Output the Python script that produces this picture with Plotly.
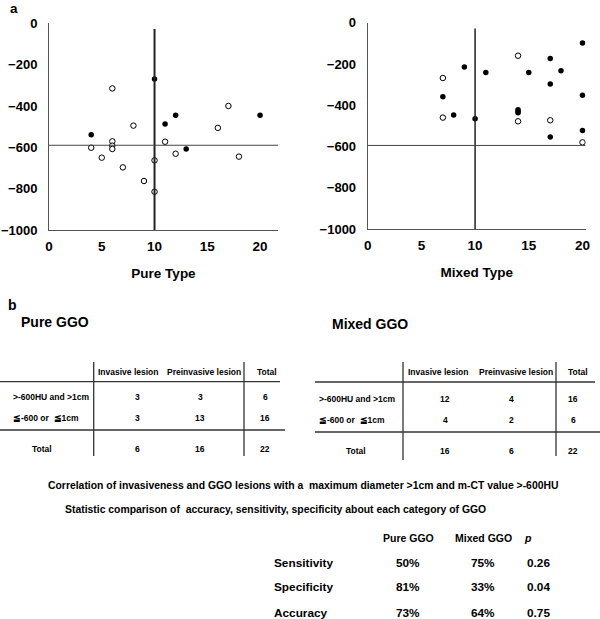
import plotly.graph_objects as go

# ---------------- data ----------------
# Panel a: pure type (x = diameter mm, y = mean CT value HU)
pure_inv_x = [10, 4, 11, 12, 13, 20]
pure_inv_y = [-270, -539, -487, -445, -608, -445]
pure_pre_x = [6, 8, 4, 5, 6, 6, 6, 7, 9, 10, 10, 11, 12, 16, 17, 18]
pure_pre_y = [-315, -495, -602, -650, -571, -592, -608, -697, -763, -663, -815, -573, -631, -506, -400, -645]

mixed_inv_x = [9, 11, 7, 8, 10, 15, 14, 14, 14, 17, 17, 17, 18, 20, 20, 20]
mixed_inv_y = [-215, -242, -359, -447, -465, -241, -422, -430, -437, -174, -297, -554, -233, -99, -352, -522]
mixed_pre_x = [7, 7, 14, 14, 17, 20]
mixed_pre_y = [-268, -460, -160, -478, -473, -580]

size_cut = [10, 10]        # mm threshold (pure, mixed)
ct_cut = [-590, -595]      # HU threshold line (pure, mixed)

x_ticks = [0, 5, 10, 15, 20]
y_ticks = [0, -200, -400, -600, -800, -1000]
x_titles = ["Pure Type", "Mixed Type"]

# Panel b tables
col_headers = ["Invasive lesion", "Preinvasive lesion", "Total"]
row_labels = [">-600HU and >1cm", "≦-600 or  ≦1cm"]
pure_counts = [[3, 3, 6], [3, 13, 16]]
pure_totals = [6, 16, 22]
mixed_counts = [[12, 4, 16], [4, 2, 6]]
mixed_totals = [16, 6, 22]

caption1 = "Correlation of invasiveness and GGO lesions with a  maximum diameter >1cm and m-CT value >-600HU"
caption2 = "Statistic comparison of  accuracy, sensitivity, specificity about each category of GGO"

stat_headers = ["Pure GGO", "Mixed GGO", "<i>p</i>"]
stat_rows = ["Sensitivity", "Specificity", "Accuracy"]
stat_pure = ["50%", "81%", "73%"]
stat_mixed = ["75%", "33%", "64%"]
stat_p = ["0.26", "0.04", "0.75"]

# ---------------- helpers ----------------
W, H = 600, 619
FONT = "Liberation Sans, Arial, sans-serif"


def px(x):
    return x / W


def py(y):
    return 1 - y / H


fig = go.Figure()

marker_open = dict(symbol="circle", size=5.5, color="white", line=dict(width=1, color="black"))
marker_fill = dict(symbol="circle", size=5.5, color="black")

fig.add_trace(go.Scatter(x=pure_pre_x, y=pure_pre_y, mode="markers", marker=marker_open, xaxis="x", yaxis="y", showlegend=False))
fig.add_trace(go.Scatter(x=pure_inv_x, y=pure_inv_y, mode="markers", marker=marker_fill, xaxis="x", yaxis="y", showlegend=False))
fig.add_trace(go.Scatter(x=mixed_pre_x, y=mixed_pre_y, mode="markers", marker=marker_open, xaxis="x2", yaxis="y2", showlegend=False))
fig.add_trace(go.Scatter(x=mixed_inv_x, y=mixed_inv_y, mode="markers", marker=marker_fill, xaxis="x2", yaxis="y2", showlegend=False))

axis_common = dict(showgrid=False, zeroline=False, showline=True, linecolor="#555", linewidth=1,
                   ticks="", automargin=False)
tick_x = dict(family=FONT, size=13.5, color="black")
tick_y = dict(family=FONT, size=13, color="black")
title_font = dict(family=FONT, size=13.5, color="black")

fig.update_layout(
    width=W, height=H, margin=dict(l=0, r=0, t=0, b=0, autoexpand=False),
    paper_bgcolor="white", plot_bgcolor="white",
    xaxis=dict(domain=[px(49), px(278)], range=[0, 21.7], tickvals=x_ticks,
               ticktext=[f"<b>{t}</b>" for t in x_ticks], anchor="y", tickfont=tick_x,
               title=dict(text=f"<b>{x_titles[0]}</b>", font=title_font, standoff=15),
               ticklabelstandoff=4, **axis_common),
    yaxis=dict(domain=[py(230), py(23.3)], range=[-1000, 0], tickvals=y_ticks,
               ticktext=[f"<b>{'−' if t < 0 else ''}{abs(t)}</b>" for t in y_ticks], anchor="x",
               tickfont=tick_y, ticklabelstandoff=8, **axis_common),
    xaxis2=dict(domain=[px(367.7), px(585.7)], range=[0, 20.3], tickvals=x_ticks,
                ticktext=[f"<b>{t}</b>" for t in x_ticks], anchor="y2", tickfont=tick_x,
                title=dict(text=f"<b>{x_titles[1]}</b>", font=title_font, standoff=15),
                ticklabelstandoff=4, **axis_common),
    yaxis2=dict(domain=[py(229), py(22.7)], range=[-1000, 0], tickvals=y_ticks,
                ticktext=[f"<b>{'−' if t < 0 else ''}{abs(t)}</b>" for t in y_ticks], anchor="x2",
                tickfont=tick_y, ticklabelstandoff=8, **axis_common),
)

shapes = []
# threshold lines in data coordinates
for i, (xa, ya, xend, vw) in enumerate([("x", "y", 21.7, 2), ("x2", "y2", 20.3, 1.5)]):
    shapes.append(dict(type="line", xref=xa, yref=ya, x0=size_cut[i], x1=size_cut[i], y0=-1000, y1=-28,
                       line=dict(color="#222", width=vw)))
    shapes.append(dict(type="line", xref=xa, yref=ya, x0=0, x1=xend, y0=ct_cut[i], y1=ct_cut[i],
                       line=dict(color="#444", width=1)))


def hline(x0, x1, y):
    shapes.append(dict(type="line", xref="paper", yref="paper", x0=px(x0), x1=px(x1), y0=py(y), y1=py(y),
                       line=dict(color="#333", width=1.3)))


def vline(x, y0, y1):
    shapes.append(dict(type="line", xref="paper", yref="paper", x0=px(x), x1=px(x), y0=py(y0), y1=py(y1),
                       line=dict(color="#333", width=1.3)))


annotations = []


def text(x, y, s, size=8.5, anchor="center", bold=True):
    annotations.append(dict(xref="paper", yref="paper", x=px(x), y=py(y), text=(f"<b>{s}</b>" if bold else s),
                            showarrow=False, xanchor=anchor, yanchor="middle",
                            font=dict(family=FONT, size=size, color="black")))


text(8, 8.5, "a", size=13.5, anchor="left")
text(6, 304.5, "b", size=14, anchor="left")
text(19, 322, "Pure GGO", size=14, anchor="left")
text(330, 324, "Mixed GGO", size=14, anchor="left")

# table geometry (pixels)
tables = [
    dict(counts=pure_counts, totals=pure_totals, hdr_x=[128, 204, 267], val_x=[137, 200, 265],
         lab_x=11, row_y=[397, 418], tot_y=449, hdr_y=372, tot_lab_x=42,
         v=[(93.7, 362, 456), (244, 362, 456)], h=[(0, 280, 381.7), (0, 285, 430)]),
    dict(counts=mixed_counts, totals=mixed_totals, hdr_x=[438, 516, 578], val_x=[445, 511, 573],
         lab_x=317, row_y=[399, 420], tot_y=451, hdr_y=372, tot_lab_x=356,
         v=[(403, 362, 460), (556, 362, 456)], h=[(315, 595, 382), (315, 600, 432)]),
]
for t in tables:
    for (x, y0, y1) in t["v"]:
        vline(x, y0, y1)
    for (x0, x1, y) in t["h"]:
        hline(x0, x1, y)
    for hx, h in zip(t["hdr_x"], col_headers):
        text(hx, t["hdr_y"], h)
    for ry, lab, row in zip(t["row_y"], row_labels, t["counts"]):
        text(t["lab_x"], ry, lab, anchor="left")
        for vx, v in zip(t["val_x"], row):
            text(vx, ry, v)
    text(t["tot_lab_x"], t["tot_y"], "Total")
    for vx, v in zip(t["val_x"], t["totals"]):
        text(vx, t["tot_y"], v)

text(303, 485, caption1, size=10.4)
text(275, 509, caption2, size=10.4)

for hx, h in zip([408, 483, 528], stat_headers):
    text(hx, 538, h, size=10.5)
for ry, lab, a, b, p in zip([563, 587, 613], stat_rows, stat_pure, stat_mixed, stat_p):
    text(272, ry, lab, size=11.8, anchor="left")
    text(408, ry, a, size=11.8)
    text(483, ry, b, size=11.8)
    text(538, ry, p, size=11.8)

fig.update_layout(shapes=shapes, annotations=annotations)
fig.write_html("out.html", config={"displayModeBar": False},
               post_script="document.body.style.margin='0';document.body.style.overflow='hidden';")
